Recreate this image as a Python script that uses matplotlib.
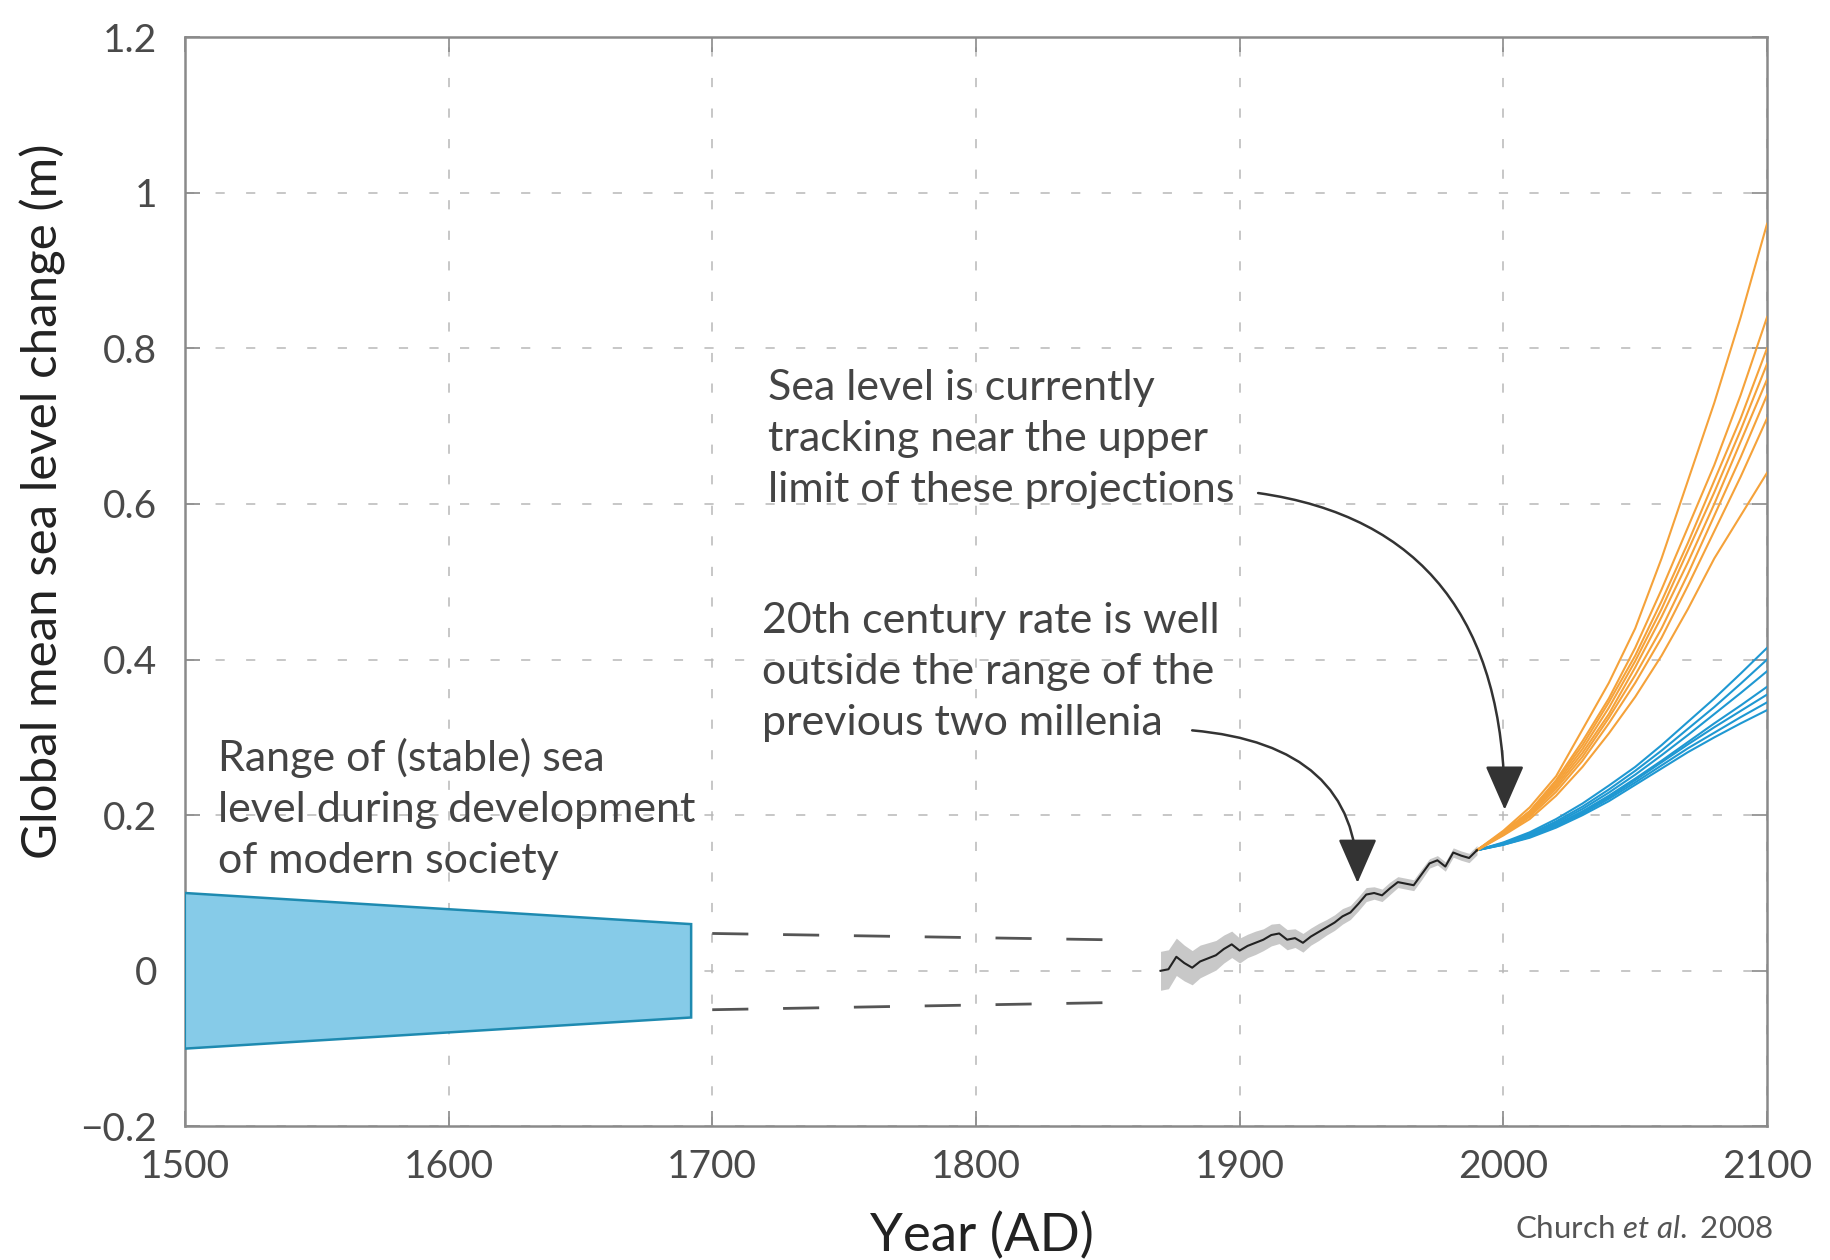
import matplotlib
matplotlib.use('Agg')
import matplotlib.pyplot as plt

plt.rcParams['font.family'] = ['Lato', 'DejaVu Sans']
plt.rcParams['mathtext.fontset'] = 'custom'
plt.rcParams['mathtext.rm'] = 'Lato'
plt.rcParams['mathtext.it'] = 'Lato:italic'

# stable range before the modern era
range_years = [1500, 1692]
range_top = [0.10, 0.06]
range_bot = [-0.10, -0.06]

# dashed continuation of the range
dash_years = [1700, 1848]
dash_top = [0.048, 0.040]
dash_bot = [-0.050, -0.041]

# observed sea level (tide gauges)
obs_years = [1870, 1873, 1876, 1879, 1882, 1885, 1888, 1891, 1894, 1897,
             1900, 1903, 1906, 1909, 1912, 1915, 1918, 1921, 1924, 1927,
             1930, 1933, 1936, 1939, 1942, 1945, 1948, 1951, 1954, 1957,
             1960, 1963, 1966, 1969, 1972, 1975, 1978, 1981, 1984, 1987, 1990]
obs_level = [0.000, 0.002, 0.018, 0.010, 0.004, 0.012, 0.016, 0.020, 0.028, 0.034,
             0.026, 0.032, 0.036, 0.040, 0.046, 0.048, 0.040, 0.042, 0.036, 0.044,
             0.050, 0.056, 0.062, 0.070, 0.075, 0.086, 0.098, 0.100, 0.097, 0.106,
             0.114, 0.112, 0.110, 0.124, 0.138, 0.142, 0.134, 0.152, 0.148, 0.145, 0.155]
obs_err = [0.025, 0.025, 0.024, 0.023, 0.022, 0.021, 0.020, 0.019, 0.018, 0.017,
           0.016, 0.015, 0.015, 0.014, 0.014, 0.013, 0.013, 0.012, 0.012, 0.011,
           0.011, 0.010, 0.010, 0.010, 0.009, 0.009, 0.009, 0.008, 0.008, 0.008,
           0.007, 0.007, 0.007, 0.007, 0.006, 0.006, 0.006, 0.006, 0.006, 0.006, 0.006]

# projections
proj_years = [1990, 2000, 2010, 2020, 2030, 2040, 2050, 2060, 2070, 2080, 2090, 2100]
proj_high = [
    [0.155, 0.180, 0.210, 0.250, 0.310, 0.370, 0.440, 0.530, 0.630, 0.730, 0.840, 0.960],
    [0.155, 0.178, 0.205, 0.245, 0.295, 0.350, 0.415, 0.490, 0.570, 0.650, 0.740, 0.840],
    [0.155, 0.178, 0.205, 0.243, 0.290, 0.345, 0.405, 0.475, 0.550, 0.630, 0.710, 0.800],
    [0.155, 0.177, 0.203, 0.240, 0.285, 0.338, 0.398, 0.465, 0.540, 0.615, 0.695, 0.780],
    [0.155, 0.176, 0.202, 0.237, 0.280, 0.330, 0.390, 0.455, 0.525, 0.600, 0.680, 0.760],
    [0.155, 0.176, 0.200, 0.234, 0.275, 0.325, 0.380, 0.440, 0.510, 0.585, 0.660, 0.740],
    [0.155, 0.175, 0.198, 0.230, 0.270, 0.318, 0.370, 0.428, 0.495, 0.565, 0.635, 0.710],
    [0.155, 0.174, 0.195, 0.225, 0.262, 0.305, 0.352, 0.405, 0.465, 0.530, 0.585, 0.640],
]
proj_low = [
    [0.155, 0.165, 0.178, 0.195, 0.215, 0.238, 0.262, 0.290, 0.320, 0.350, 0.382, 0.415],
    [0.155, 0.164, 0.176, 0.192, 0.211, 0.233, 0.257, 0.283, 0.311, 0.339, 0.369, 0.400],
    [0.155, 0.164, 0.175, 0.190, 0.208, 0.229, 0.252, 0.277, 0.303, 0.330, 0.357, 0.385],
    [0.155, 0.163, 0.174, 0.188, 0.205, 0.225, 0.247, 0.270, 0.294, 0.318, 0.341, 0.365],
    [0.155, 0.163, 0.173, 0.187, 0.204, 0.223, 0.245, 0.268, 0.291, 0.313, 0.334, 0.355],
    [0.155, 0.162, 0.172, 0.186, 0.202, 0.221, 0.242, 0.264, 0.286, 0.306, 0.326, 0.345],
    [0.155, 0.162, 0.171, 0.184, 0.200, 0.218, 0.239, 0.260, 0.281, 0.300, 0.318, 0.335],
]

xticks = [1500, 1600, 1700, 1800, 1900, 2000, 2100]
xtick_labels = ['1500', '1600', '1700', '1800', '1900', '2000', '2100']
yticks = [-0.2, 0, 0.2, 0.4, 0.6, 0.8, 1.0, 1.2]
ytick_labels = ['\u22120.2', '0', '0.2', '0.4', '0.6', '0.8', '1', '1.2']

fig = plt.figure(figsize=(18.3, 12.6), dpi=100)
ax = fig.add_axes([0.101, 0.106, 0.8646, 0.8646])

ax.set_xlim(1500, 2100)
ax.set_ylim(-0.2, 1.2)

for side in ['left', 'right', 'top', 'bottom']:
    ax.spines[side].set_color('#8a8a8a')
    ax.spines[side].set_linewidth(1.8)

ax.set_xticks(xticks)
ax.set_xticklabels(xtick_labels)
ax.set_yticks(yticks)
ax.set_yticklabels(ytick_labels)
ax.tick_params(direction='in', length=11, width=1.2, color='#8a8a8a',
               labelsize=28, labelcolor='#4a4a4a', top=True, right=True)
ax.tick_params(axis='x', pad=16)
ax.tick_params(axis='y', pad=20)
ax.grid(True, color='#b8b8b8', linestyle=(0, (6, 14)), linewidth=1.1)
ax.set_axisbelow(True)

# blue range
ax.fill(range_years + range_years[::-1], range_top + range_bot[::-1],
        facecolor='#86cbe8', edgecolor='#1e8ab0', linewidth=1.8, zorder=3)

ax.plot(dash_years, dash_top, color='#555555', linewidth=2, dashes=(13, 12.5), zorder=3)
ax.plot(dash_years, dash_bot, color='#555555', linewidth=2, dashes=(13, 12.5), zorder=3)

# observations with uncertainty band
lo = [v - e for v, e in zip(obs_level, obs_err)]
hi = [v + e for v, e in zip(obs_level, obs_err)]
ax.fill_between(obs_years, lo, hi, color='#c8c8c8', linewidth=0, zorder=3)
ax.plot(obs_years, obs_level, color='#222222', linewidth=1.5, zorder=5)

for curve in proj_low:
    ax.plot(proj_years, curve, color='#1f98d2', linewidth=1.5, zorder=4)
for curve in proj_high:
    ax.plot(proj_years, curve, color='#f5a23a', linewidth=1.5, zorder=4)

txt_color = '#444444'
ax.text(1721, 0.683, 'Sea level is currently\ntracking near the upper\nlimit of these projections',
        fontsize=31, color=txt_color, va='center', ha='left', linespacing=1.42)
ax.text(1719, 0.384, '20th century rate is well\noutside the range of the\nprevious two millenia',
        fontsize=31, color=txt_color, va='center', ha='left', linespacing=1.42)
ax.text(1512.5, 0.208, 'Range of (stable) sea\nlevel during development\nof modern society',
        fontsize=31, color=txt_color, va='center', ha='left', linespacing=1.42)

arrow_kw = dict(arrowstyle='-|>,head_length=0.8,head_width=0.35', color='#333333',
                lw=1.8, mutation_scale=35, shrinkA=0, shrinkB=0)
ax.annotate('', xy=(2000.5, 0.207), xytext=(1907, 0.614), xycoords='data',
            arrowprops=dict(connectionstyle='angle3,angleA=-8,angleB=90', **arrow_kw), zorder=6)
ax.annotate('', xy=(1944.7, 0.113), xytext=(1882, 0.309), xycoords='data',
            arrowprops=dict(connectionstyle='angle3,angleA=-5,angleB=90', **arrow_kw), zorder=6)

ax.set_ylabel('Global mean sea level change (m)', fontsize=35.5, color='#222222')
ax.yaxis.set_label_coords(-0.075, 0.574)
ax.set_xlabel('Year (AD)', fontsize=38, color='#222222', va='center')
ax.xaxis.set_label_coords(0.504, -0.101)

fig.text(0.969, 0.025, r'Church $et\ al.$ 2008', fontsize=22.5, color='#555555',
         ha='right', va='center')

fig.savefig('out.png', dpi=100)
